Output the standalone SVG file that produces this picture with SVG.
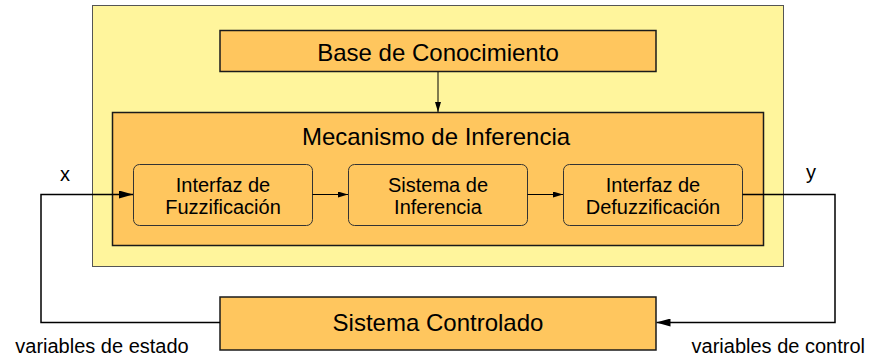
<svg xmlns="http://www.w3.org/2000/svg" width="871" height="360" viewBox="0 0 871 360">
<style>
text{font-family:"Liberation Sans",Arial,sans-serif;fill:#000;text-anchor:middle}
.big{font-size:24px}
.mid{font-size:20px}
.box{fill:#ffc65e;stroke:#1a1a1a;stroke-width:1.5}
.rbox{fill:#ffc65e;stroke:#333;stroke-width:1}
.ln{fill:none;stroke:#000;stroke-width:1}
.fb{fill:none;stroke:#000;stroke-width:1.5}
</style>
<defs>
<marker id="ah" viewBox="0 0 10 6" refX="10" refY="3" markerWidth="10" markerHeight="6" markerUnits="userSpaceOnUse" orient="auto">
<path d="M0,0 L10,3 L0,6 z" fill="#000"/>
</marker>
<marker id="ahb" viewBox="0 0 14 8" refX="14" refY="4" markerWidth="14" markerHeight="8" markerUnits="userSpaceOnUse" orient="auto">
<path d="M0,0 L14,4 L0,8 z" fill="#000"/>
</marker>
</defs>
<g id="outer"><rect x="92.5" y="5.5" width="691" height="261" fill="#fff59c" stroke="#555" stroke-width="1"/></g>
<g id="base"><rect class="box" x="220" y="30.5" width="436" height="41"/><text class="big" x="438" y="61">Base de Conocimiento</text></g>
<g id="mecanismo"><rect class="box" x="112.5" y="112.5" width="651" height="133"/><text class="big" x="436" y="145">Mecanismo de Inferencia</text></g>
<g id="fuzz"><rect class="rbox" x="133.5" y="164.5" width="179" height="61" rx="6"/><text class="mid" x="223" y="191.5">Interfaz de</text><text class="mid" x="223" y="213.5">Fuzzificación</text></g>
<g id="infer"><rect class="rbox" x="348.5" y="164.5" width="179" height="61" rx="6"/><text class="mid" x="438" y="191.5">Sistema de</text><text class="mid" x="438" y="213.5">Inferencia</text></g>
<g id="defuzz"><rect class="rbox" x="563.5" y="164.5" width="179" height="61" rx="6"/><text class="mid" x="653" y="191.5">Interfaz de</text><text class="mid" x="653" y="213.5">Defuzzificación</text></g>
<g id="controlado"><rect class="box" x="220" y="297" width="436" height="53"/><text class="big" x="438" y="331">Sistema Controlado</text></g>
<g id="connectors">
<line class="ln" x1="438" y1="72" x2="438" y2="112" marker-end="url(#ah)"/>
<line class="ln" x1="312.5" y1="194.5" x2="348" y2="194.5" marker-end="url(#ah)"/>
<line class="ln" x1="527.5" y1="194.5" x2="563" y2="194.5" marker-end="url(#ah)"/>
<polyline class="fb" points="220,322.5 41,322.5 41,194.5 133,194.5" marker-end="url(#ahb)"/>
<polyline class="fb" points="742.5,194.5 835,194.5 835,322.5 656.5,322.5" marker-end="url(#ahb)"/>
</g>
<g id="labels">
<text class="mid" x="65" y="180.5">x</text>
<text class="mid" x="811" y="179">y</text>
<text class="mid" x="102" y="353" style="font-size:20px">variables de estado</text>
<text class="mid" x="865" y="353" style="text-anchor:end">variables de control</text>
</g>
</svg>
